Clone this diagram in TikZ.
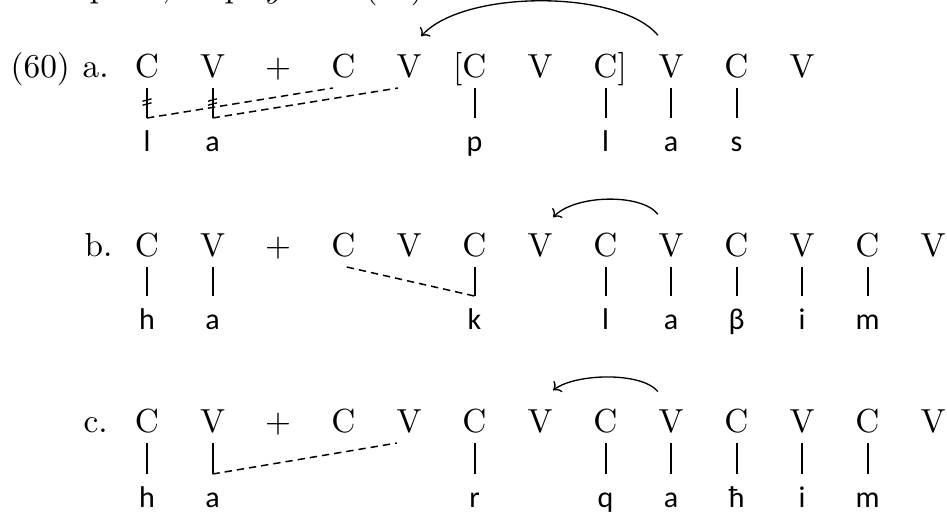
\documentclass[tikz,border=0pt]{standalone}
\usepackage{fontspec}
\newfontfamily\segfont{Carlito}
\usetikzlibrary{arrows.meta}
\begin{document}
\begin{tikzpicture}[
  x=0.3pt, y=-0.3pt,
  sk/.style={anchor=base, inner sep=0pt, text depth=0pt, outer ysep=3.3pt,
             font=\fontsize{10}{12}\selectfont},
  lbl/.style={anchor=base west, inner sep=0pt, font=\fontsize{10}{12}\selectfont},
  seg/.style={anchor=base, inner sep=0pt, text height=6.3pt, text depth=0pt,
              outer ysep=3.6pt, font=\segfont\fontsize{9}{11}\selectfont},
  assoc/.style={line width=0.6pt},
  link/.style={line width=0.45pt, dash pattern=on 2.2pt off 1.5pt},
  spread/.style={line width=0.4pt, -{To[length=2pt,width=4.2pt]}},
  strike/.style={line width=0.4pt}
]
\clip (0,0) rectangle (947,514);
\useasboundingbox (0,0) rectangle (947,514);

% tail of the preceding text line
\node[lbl] (t1) at (89,-3) {p};
\node[lbl] (t2) at (161,-3) {,};
\node[lbl] (t3) at (224,-3) {p};
\node[lbl] (t4) at (265,-3) {$y$};
\node[lbl] (t5) at (364,-3) {(59)};

% ---------- (60a) ----------
\node[lbl] (ex) at (10,77) {(60)};
\node[lbl] (la) at (82,77) {a.};
\node[sk] (a0)  at (147,77)   {C};
\node[sk] (a1)  at (212.5,77) {V};
\node[sk] (a2)  at (278,77)   {$+$};
\node[sk] (a3)  at (343.5,77) {C};
\node[sk] (a4)  at (409,77)   {V};
\node[sk] (a5)  at (474.5,77) {\llap{[}C};
\node[sk] (a6)  at (540,77)   {V};
\node[sk] (a7)  at (605.5,77) {C\rlap{]}};
\node[sk] (a8)  at (671,77)   {V};
\node[sk] (a9)  at (736.5,77) {C};
\node[sk] (a10) at (802,77)   {V};

\node[seg] (sa0) at (147,151)   {l};
\node[seg] (sa1) at (212.5,151) {a};
\node[seg] (sa5) at (474.5,151) {p};
\node[seg] (sa7) at (605.5,151) {l};
\node[seg] (sa8) at (671,151)   {a};
\node[seg] (sa9) at (736.5,151) {s};

\foreach \s/\t in {a0/sa0,a1/sa1,a5/sa5,a7/sa7,a8/sa8,a9/sa9}
  \draw[assoc] (\s.south) -- (\s.south |- \t.north);

% delinking marks
\foreach \s in {a0,a1}{
  \draw[strike] ([shift={(-4.5,101.2)}]\s.south |- 0,0) -- ([shift={(4.5,98.8)}]\s.south |- 0,0);
  \draw[strike] ([shift={(-4.5,105.2)}]\s.south |- 0,0) -- ([shift={(4.5,102.8)}]\s.south |- 0,0);
}

\draw[link] (a0.south |- sa0.north) -- ([xshift=0.6pt]a3.south west);
\draw[link] (a1.south |- sa1.north) -- ([xshift=0.6pt]a4.south west);

\draw[spread] ([yshift=2.4pt]a8.north west) .. controls +(-38,-46) and +(42,-47) ..
  ([shift={(-1,-7)}]a4.north east);

% ---------- (60b) ----------
\node[lbl] (lb) at (84,256) {b.};
\node[sk] (b0)  at (147,256)   {C};
\node[sk] (b1)  at (212.5,256) {V};
\node[sk] (b2)  at (278,256)   {$+$};
\node[sk] (b3)  at (343.5,256) {C};
\node[sk] (b4)  at (409,256)   {V};
\node[sk] (b5)  at (474.5,256) {C};
\node[sk] (b6)  at (540,256)   {V};
\node[sk] (b7)  at (605.5,256) {C};
\node[sk] (b8)  at (671,256)   {V};
\node[sk] (b9)  at (736.5,256) {C};
\node[sk] (b10) at (802,256)   {V};
\node[sk] (b11) at (867.5,256) {C};
\node[sk] (b12) at (933,256)   {V};

\node[seg] (sb0)  at (147,329)   {h};
\node[seg] (sb1)  at (212.5,329) {a};
\node[seg] (sb5)  at (474.5,329) {k};
\node[seg] (sb7)  at (605.5,329) {l};
\node[seg] (sb8)  at (671,329)   {a};
\node[seg] (sb9)  at (736.5,329) {β};
\node[seg] (sb10) at (802,329)   {i};
\node[seg] (sb11) at (867.5,329) {m};

\foreach \s/\t in {b0/sb0,b1/sb1,b5/sb5,b7/sb7,b8/sb8,b9/sb9,b10/sb10,b11/sb11}
  \draw[assoc] (\s.south) -- (\s.south |- \t.north);

\draw[link] ([xshift=1pt]b3.south) -- (b5.south |- sb5.north);

\draw[spread] ([yshift=2.4pt]b8.north west) .. controls +(-16,-21) and +(22,-23) ..
  ([yshift=1.5pt]b6.north east);

% ---------- (60c) ----------
\node[lbl] (lc) at (83,432) {c.};
\node[sk] (c0)  at (147,432)   {C};
\node[sk] (c1)  at (212.5,432) {V};
\node[sk] (c2)  at (278,432)   {$+$};
\node[sk] (c3)  at (343.5,432) {C};
\node[sk] (c4)  at (409,432)   {V};
\node[sk] (c5)  at (474.5,432) {C};
\node[sk] (c6)  at (540,432)   {V};
\node[sk] (c7)  at (605.5,432) {C};
\node[sk] (c8)  at (671,432)   {V};
\node[sk] (c9)  at (736.5,432) {C};
\node[sk] (c10) at (802,432)   {V};
\node[sk] (c11) at (867.5,432) {C};
\node[sk] (c12) at (933,432)   {V};

\node[seg] (sc0)  at (147,507)   {h};
\node[seg] (sc1)  at (212.5,507) {a};
\node[seg] (sc5)  at (474.5,507) {r};
\node[seg] (sc7)  at (605.5,507) {q};
\node[seg] (sc8)  at (671,507)   {a};
\node[seg] (sc9)  at (736.5,507) {ħ};
\node[seg] (sc10) at (802,507)   {i};
\node[seg] (sc11) at (867.5,507) {m};

\foreach \s/\t in {c0/sc0,c1/sc1,c5/sc5,c7/sc7,c8/sc8,c9/sc9,c10/sc10,c11/sc11}
  \draw[assoc] (\s.south) -- (\s.south |- \t.north);

\draw[link] (c1.south |- sc1.north) -- ([xshift=0.3pt]c4.south west);

\draw[spread] ([yshift=2pt]c8.north west) .. controls +(-16,-20) and +(22,-17) ..
  ([yshift=2.4pt]c6.north east);
\end{tikzpicture}
\end{document}
